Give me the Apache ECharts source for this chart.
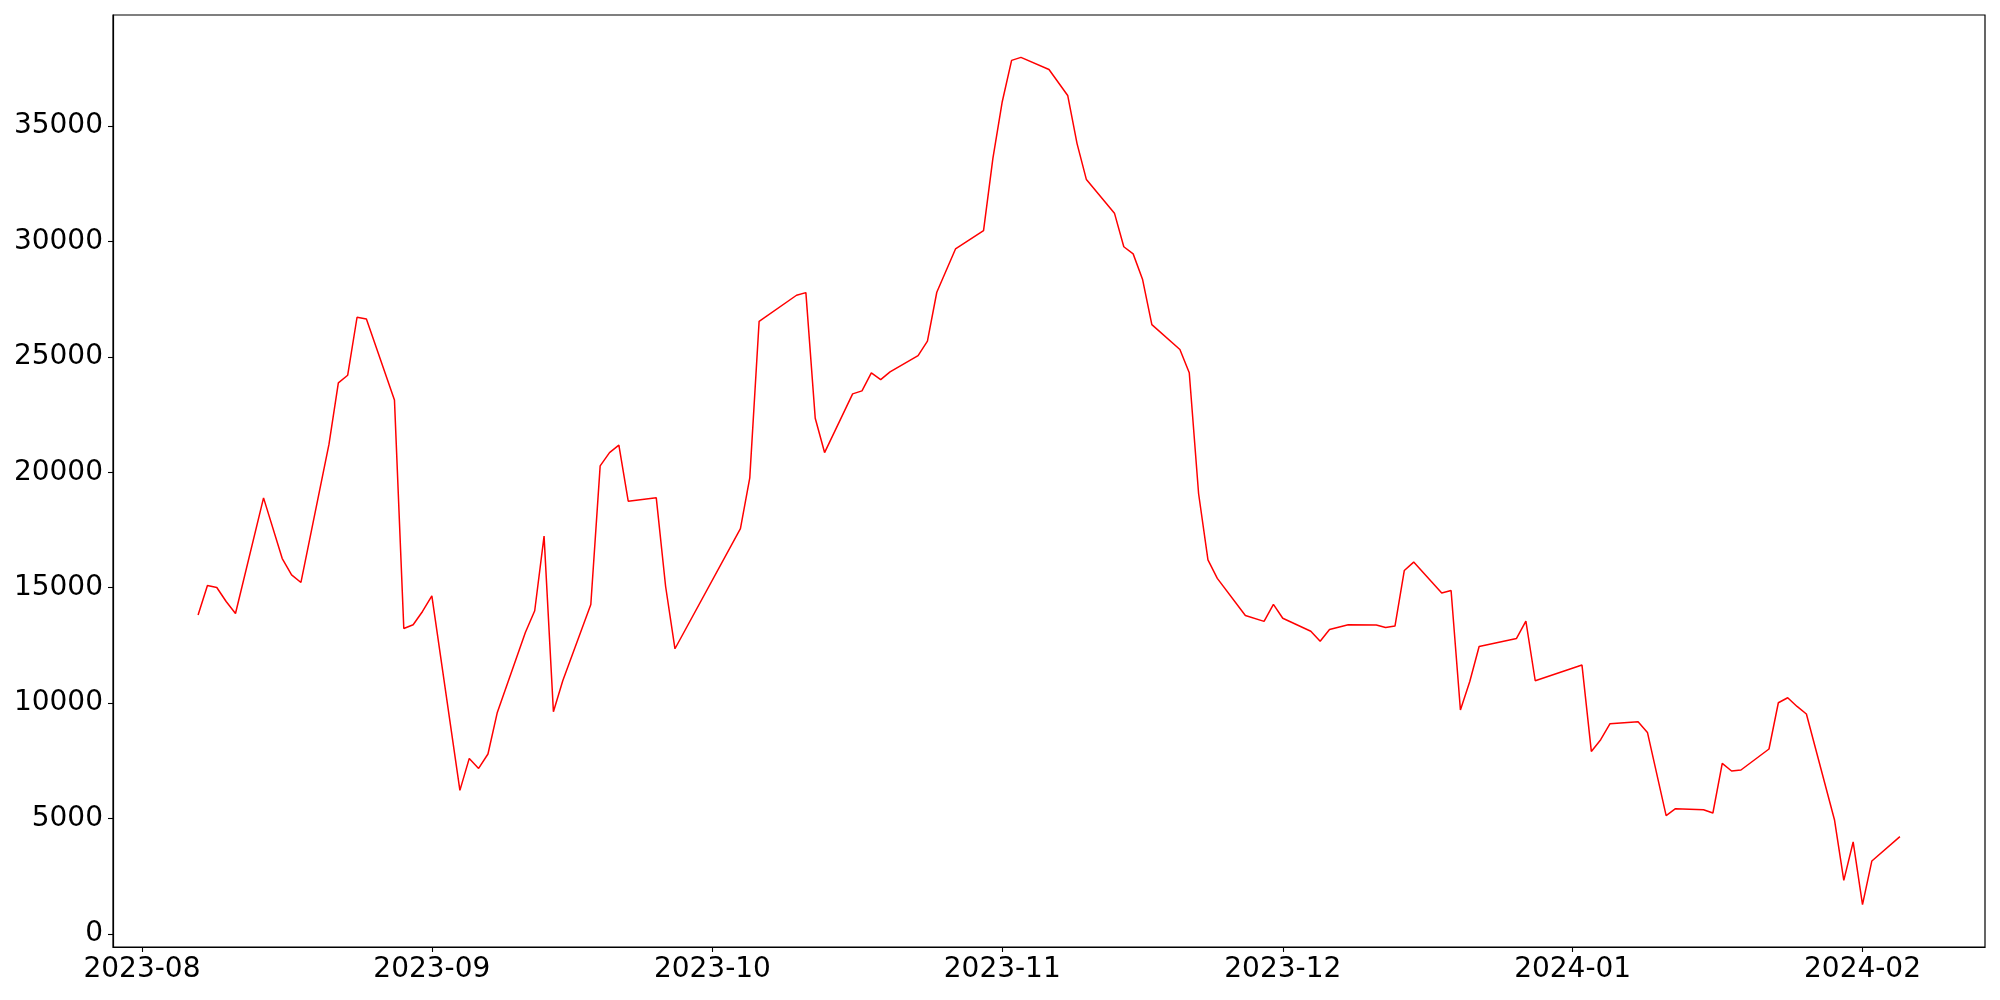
<!DOCTYPE html>
<html>
<head>
<meta charset="utf-8">
<script src="https://cdn.jsdelivr.net/npm/echarts@6/dist/echarts.min.js"></script>
<style>
html,body{margin:0;padding:0;background:#fff;}
#chart{width:2000px;height:1000px;}
</style>
</head>
<body>
<div id="chart"></div>
<script>
const dates = [
  '2023-08-07','2023-08-08','2023-08-09','2023-08-10','2023-08-11',
  '2023-08-14','2023-08-16','2023-08-17','2023-08-18',
  '2023-08-21','2023-08-22','2023-08-23','2023-08-24','2023-08-25',
  '2023-08-28','2023-08-29','2023-08-30','2023-08-31','2023-09-01',
  '2023-09-04','2023-09-05','2023-09-06','2023-09-07','2023-09-08',
  '2023-09-11','2023-09-12','2023-09-13','2023-09-14','2023-09-15',
  '2023-09-18','2023-09-19','2023-09-20','2023-09-21','2023-09-22',
  '2023-09-25','2023-09-26','2023-09-27',
  '2023-10-04','2023-10-05','2023-10-06',
  '2023-10-10','2023-10-11','2023-10-12','2023-10-13',
  '2023-10-16','2023-10-17','2023-10-18','2023-10-19','2023-10-20',
  '2023-10-23','2023-10-24','2023-10-25','2023-10-27',
  '2023-10-30','2023-10-31','2023-11-01','2023-11-02','2023-11-03',
  '2023-11-06','2023-11-08','2023-11-09','2023-11-10',
  '2023-11-13','2023-11-14','2023-11-15','2023-11-16','2023-11-17',
  '2023-11-20','2023-11-21','2023-11-22','2023-11-23','2023-11-24',
  '2023-11-27','2023-11-29','2023-11-30','2023-12-01',
  '2023-12-04','2023-12-05','2023-12-06','2023-12-08',
  '2023-12-11','2023-12-12','2023-12-13','2023-12-14','2023-12-15',
  '2023-12-18','2023-12-19','2023-12-20','2023-12-21','2023-12-22',
  '2023-12-26','2023-12-27','2023-12-28',
  '2024-01-02','2024-01-03','2024-01-04','2024-01-05',
  '2024-01-08','2024-01-09','2024-01-11','2024-01-12',
  '2024-01-15','2024-01-16','2024-01-17','2024-01-18','2024-01-19',
  '2024-01-22','2024-01-23','2024-01-24','2024-01-25','2024-01-26',
  '2024-01-29','2024-01-30','2024-01-31','2024-02-01','2024-02-02',
  '2024-02-05'
];
const values = [
  13813,15095,15008,14402,13882,
  18892,16264,15558,15226,
  21218,23872,24205,26716,26643,
  23136,13233,13393,13969,14649,
  6218,7604,7171,7794,9596,
  13060,14000,17234,9626,10968,
  14272,20278,20854,21174,18749,
  18892,15051,12354,
  17563,19758,26540,
  27669,27782,22343,20854,
  23396,23526,24305,24015,24348,
  25054,25678,27799,29674,
  30467,33602,36053,37845,37975,
  37450,36325,34240,32680,
  31225,29770,29462,28367,26397,
  25318,24309,19070,16208,15402,
  13796,13540,14276,13675,
  13112,12683,13185,13393,
  13380,13276,13337,15745,16108,
  14766,14878,9699,10938,12453,
  12800,13553,10968,
  11648,7907,8413,9106,
  9193,8730,5122,5426,
  5382,5239,7387,7058,7101,
  8011,10016,10232,9856,9526,
  4949,2321,3984,1269,3161,
  4213
];
const yTicks = [0,5000,10000,15000,20000,25000,30000,35000];
const xTickLabels = ['2023-08','2023-09','2023-10','2023-11','2023-12','2024-01','2024-02'];

function toTs(s){
  const p = s.split('-').map(Number);
  return Date.UTC(p[0], p[1]-1, p[2] || 1);
}
const seriesData = dates.map((d,i)=>[toTs(d), values[i]]);
const xs = seriesData.map(p=>p[0]);
const xMinD = Math.min(...xs), xMaxD = Math.max(...xs);
const xPad = (xMaxD - xMinD) * 0.05;
const yMinD = Math.min(...values), yMaxD = Math.max(...values);
const yPad = (yMaxD - yMinD) * 0.05;
const xTickVals = xTickLabels.map(toTs);

const font = 'DejaVu Sans';
const chart = echarts.init(document.getElementById('chart'), null, {renderer:'canvas', width:2000, height:1000});
chart.setOption({
  animation: false,
  backgroundColor: '#ffffff',
  grid: {
    left: 113, right: 15, top: 15, bottom: 53,
    containLabel: false,
    outerBoundsMode: 'none',
    show: true, borderColor: '#000', borderWidth: 1.2, backgroundColor: 'transparent'
  },
  xAxis: {
    type: 'value',
    min: xMinD - xPad,
    max: xMaxD + xPad,
    splitLine: {show:false},
    axisLine: {show:true, onZero:false, lineStyle:{color:'#000', width:1.2}},
    axisTick: {show:true, length:5, lineStyle:{color:'#000', width:1.1}, customValues: xTickVals},
    axisLabel: {
      show: true, color:'#000', fontFamily: font, fontSize: 28, margin: 9,
      customValues: xTickVals,
      formatter: function(v){
        const i = xTickVals.indexOf(v);
        if (i >= 0) return xTickLabels[i];
        const d = new Date(v);
        const m = d.getUTCMonth()+1;
        return d.getUTCFullYear() + '-' + (m<10?'0':'') + m;
      }
    }
  },
  yAxis: {
    type: 'value',
    min: yMinD - yPad,
    max: yMaxD + yPad,
    splitLine: {show:false},
    axisLine: {show:true, lineStyle:{color:'#000', width:1.2}},
    axisTick: {show:true, length:5, lineStyle:{color:'#000', width:1.1}, customValues: yTicks},
    axisLabel: {
      show: true, color:'#000', fontFamily: font, fontSize: 28, margin: 10,
      customValues: yTicks,
      formatter: function(v){ return String(Math.round(v)); }
    }
  },
  series: [{
    type: 'line',
    data: seriesData,
    showSymbol: false,
    symbol: 'none',
    lineStyle: {color:'#ff0000', width:1.5},
    itemStyle: {color:'#ff0000'},
    emphasis: {disabled:true}
  }]
});
</script>
</body>
</html>
